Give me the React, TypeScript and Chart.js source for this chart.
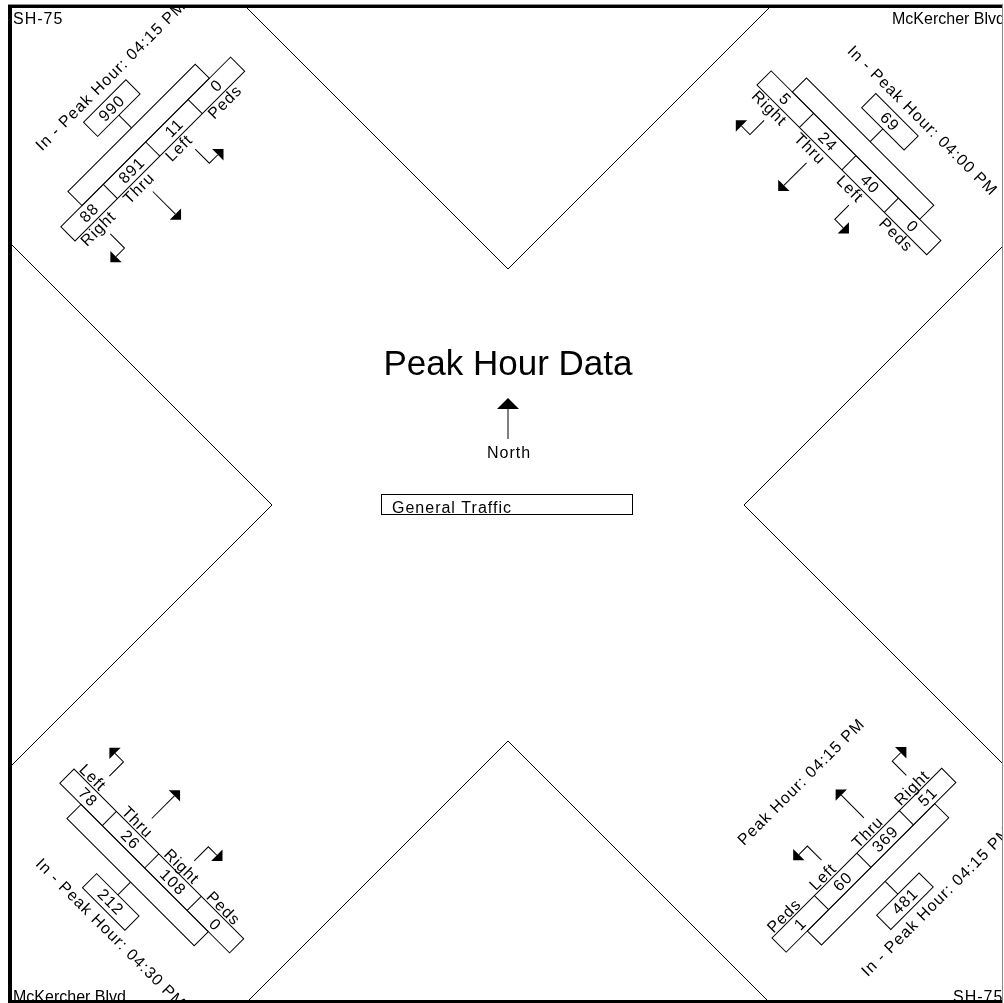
import React, { useEffect, useRef } from 'react';
import { Chart, registerables } from 'chart.js';

Chart.register(...registerables);

// ---------------- DATA ----------------
const chartTitle = 'Peak Hour Data';
const northLabel = 'North';
const legendLabel = 'General Traffic';

// corner road names: top-left, top-right, bottom-left, bottom-right
const cornerNames = ['SH-75', 'McKercher Blvd', 'McKercher Blvd', 'SH-75'];

// approach order: top-left, top-right, bottom-left, bottom-right
const inPeakHours = ['04:15 PM', '04:00 PM', '04:30 PM', '04:15 PM'];
const inTotals = [990, 69, 212, 481];
const outPeakHours: (string | null)[] = [null, null, null, '04:15 PM'];

const tlMovements = ['Right', 'Thru', 'Left', 'Peds'];
const tlCounts = [88, 891, 11, 0];

const trMovements = ['Right', 'Thru', 'Left', 'Peds'];
const trCounts = [5, 24, 40, 0];

const blMovements = ['Left', 'Thru', 'Right', 'Peds'];
const blCounts = [78, 26, 108, 0];

const brMovements = ['Peds', 'Left', 'Thru', 'Right'];
const brCounts = [1, 60, 369, 51];

// ---------------- LAYOUT ----------------
const W = 1004;
const H = 1003;
const FRAME = { left: 12, top: 8, right: 1002, bottom: 1000 };
const CENTER = { x: 508, y: 505 };
const ROAD_TIP = 236;
const ROAD_ARM = 320;

const CELL_W = 60;
const ROW_H = 20;
const BAR_INSET = 30;
const BAR_H = 20;
const CONN = 18;
const BOX_W = 60;
const BOX_H = 20;
const TITLE_OFF = 91;
const TITLE_X = 40;
const LABEL_X = 4;

const FONT = '16px "Liberation Sans", Arial, sans-serif';
const BIG_FONT = '35px "Liberation Sans", Arial, sans-serif';

// corner label anchors (left x, baseline y) and letter spacing
const cornerPos = [
  { x: 13, y: 24, sp: 1 },
  { x: 892, y: 24, sp: 0 },
  { x: 13, y: 1002, sp: 0 },
  { x: 953, y: 1002, sp: 1 },
];

// s = -1: text "down" points toward intersection; s = 1: text "down" points outward
const groupLayout = [
  { ox: 75, oy: 241, angle: -45, s: -1 },
  { ox: 757, oy: 85, angle: 45, s: -1 },
  { ox: 74, oy: 769, angle: 45, s: 1 },
  { ox: 772, oy: 938, angle: -45, s: 1 },
];

const groupMovements = [tlMovements, trMovements, blMovements, brMovements];
const groupCounts = [tlCounts, trCounts, blCounts, brCounts];

function arrowPath(ctx: CanvasRenderingContext2D, pts: number[][], head: number, hw: number) {
  const n = pts.length;
  const [tx, ty] = pts[n - 1];
  const [bx, by] = pts[n - 2];
  const dx = tx - bx;
  const dy = ty - by;
  const len = Math.hypot(dx, dy) || 1;
  const ux = dx / len;
  const uy = dy / len;
  const baseX = tx - ux * head;
  const baseY = ty - uy * head;
  ctx.beginPath();
  ctx.moveTo(pts[0][0], pts[0][1]);
  for (let i = 1; i < n - 1; i++) ctx.lineTo(pts[i][0], pts[i][1]);
  ctx.lineTo(baseX, baseY);
  ctx.stroke();
  ctx.beginPath();
  ctx.moveTo(tx, ty);
  ctx.lineTo(baseX - uy * hw, baseY + ux * hw);
  ctx.lineTo(baseX + uy * hw, baseY - ux * hw);
  ctx.closePath();
  ctx.fill();
}

function strokeBox(ctx: CanvasRenderingContext2D, x1: number, y1: number, x2: number, y2: number) {
  ctx.strokeRect(Math.min(x1, x2), Math.min(y1, y2), Math.abs(x2 - x1), Math.abs(y2 - y1));
}

const diagramPlugin = {
  id: 'diagram',
  beforeDraw(chart: any) {
    const ctx: CanvasRenderingContext2D = chart.ctx;
    ctx.save();
    ctx.fillStyle = '#ffffff';
    ctx.fillRect(0, 0, chart.width, chart.height);
    ctx.restore();
  },
  afterDatasetsDraw(chart: any) {
    const ctx: CanvasRenderingContext2D = chart.ctx;
    const sx = chart.scales.x;
    const sy = chart.scales.y;
    const px = (v: number) => sx.getPixelForValue(v);
    const py = (v: number) => sy.getPixelForValue(v);
    const k = (px(100) - px(0)) / 100;

    ctx.save();
    ctx.fillStyle = '#000';
    ctx.strokeStyle = '#000';
    ctx.lineWidth = 1;
    (ctx as any).letterSpacing = '1px';

    // clip to inner frame
    ctx.beginPath();
    ctx.rect(px(FRAME.left), py(FRAME.top), px(FRAME.right) - px(FRAME.left), py(FRAME.bottom) - py(FRAME.top));
    ctx.clip();

    // road edges (four V shapes)
    const vs = [
      { tx: CENTER.x, ty: CENTER.y - ROAD_TIP, a: [-1, -1], b: [1, -1] },
      { tx: CENTER.x + ROAD_TIP, ty: CENTER.y, a: [1, -1], b: [1, 1] },
      { tx: CENTER.x, ty: CENTER.y + ROAD_TIP, a: [-1, 1], b: [1, 1] },
      { tx: CENTER.x - ROAD_TIP, ty: CENTER.y, a: [-1, -1], b: [-1, 1] },
    ];
    vs.forEach((v) => {
      ctx.beginPath();
      ctx.moveTo(px(v.tx + v.a[0] * ROAD_ARM), py(v.ty + v.a[1] * ROAD_ARM));
      ctx.lineTo(px(v.tx), py(v.ty));
      ctx.lineTo(px(v.tx + v.b[0] * ROAD_ARM), py(v.ty + v.b[1] * ROAD_ARM));
      ctx.stroke();
    });

    // corner labels
    ctx.font = FONT;
    ctx.textBaseline = 'alphabetic';
    ctx.textAlign = 'left';
    cornerNames.forEach((name, i) => {
      const p = cornerPos[i];
      (ctx as any).letterSpacing = p.sp + 'px';
      ctx.fillText(name, px(p.x), py(p.y));
    });
    (ctx as any).letterSpacing = '1px';

    // title
    ctx.save();
    (ctx as any).letterSpacing = '0px';
    ctx.font = BIG_FONT;
    ctx.textAlign = 'center';
    ctx.fillText(chartTitle, px(508), py(375));
    ctx.restore();

    // north arrow
    arrowPath(ctx, [[px(508), py(439)], [px(508), py(398)]], 11 * k, 11 * k);
    ctx.font = FONT;
    ctx.textAlign = 'center';
    ctx.fillText(northLabel, px(509), py(458));

    // legend box
    strokeBox(ctx, px(381) + 0.5, py(494) + 0.5, px(632) + 0.5, py(514) + 0.5);
    ctx.textAlign = 'left';
    ctx.fillText(legendLabel, px(392), py(513));

    // approach groups
    groupLayout.forEach((g, gi) => {
      const movements = groupMovements[gi];
      const counts = groupCounts[gi];
      const s = g.s;
      const Yo = (yOut: number) => s * yOut;
      const Yi = (yIn: number) => -s * yIn;
      const n = counts.length;
      const rowLen = n * CELL_W;
      const mid = rowLen / 2;

      ctx.save();
      ctx.translate(px(g.ox), py(g.oy));
      ctx.rotate((g.angle * Math.PI) / 180);
      ctx.scale(k, k);

      // movement row
      strokeBox(ctx, 0, Yo(0), rowLen, Yo(ROW_H));
      for (let i = 1; i < n; i++) {
        ctx.beginPath();
        ctx.moveTo(i * CELL_W, Yo(0));
        ctx.lineTo(i * CELL_W, Yo(ROW_H));
        ctx.stroke();
      }
      // in bar
      strokeBox(ctx, BAR_INSET, Yo(ROW_H), rowLen - BAR_INSET, Yo(ROW_H + BAR_H));
      // connector
      ctx.beginPath();
      ctx.moveTo(mid, Yo(ROW_H + BAR_H));
      ctx.lineTo(mid, Yo(ROW_H + BAR_H + CONN));
      ctx.stroke();
      // in total box
      const boxIn = ROW_H + BAR_H + CONN;
      strokeBox(ctx, mid - BOX_W / 2, Yo(boxIn), mid + BOX_W / 2, Yo(boxIn + BOX_H));

      ctx.font = FONT;
      // counts
      ctx.textAlign = 'center';
      ctx.textBaseline = 'middle';
      counts.forEach((c, i) => {
        ctx.fillText(String(c), i * CELL_W + CELL_W / 2, Yo(ROW_H / 2) + 1);
      });
      ctx.fillText(String(inTotals[gi]), mid, Yo(boxIn + BOX_H / 2) + 1);

      // in title
      ctx.textAlign = 'left';
      ctx.fillText('In - Peak Hour: ' + inPeakHours[gi], TITLE_X, Yo(TITLE_OFF));
      const outPeak = outPeakHours[gi];
      if (outPeak) {
        ctx.fillText('Peak Hour: ' + outPeak, TITLE_X + 5, Yi(TITLE_OFF - 2));
      }

      // movement labels
      ctx.textBaseline = 'alphabetic';
      movements.forEach((m, i) => {
        const yl = s < 0 ? Yi(13) : Yi(2);
        ctx.fillText(m, i * CELL_W + LABEL_X, yl);
      });

      // arrows
      movements.forEach((m, i) => {
        const xc = i * CELL_W + CELL_W / 2;
        if (m === 'Thru') {
          arrowPath(ctx, [[xc, Yi(20)], [xc, Yi(60)]], 8, 8);
        } else if (m === 'Right' || m === 'Left') {
          const dir = m === 'Right' ? s : -s;
          arrowPath(ctx, [[xc, Yi(20)], [xc, Yi(40)], [xc + dir * 20, Yi(40)]], 8, 8);
        }
      });

      ctx.restore();
    });

    ctx.restore();

    // frame
    ctx.save();
    ctx.fillStyle = '#000';
    ctx.fillRect(px(8), py(4), px(12) - px(8), py(1003) - py(4));
    ctx.fillRect(px(8), py(4), px(1002) - px(8), py(8) - py(4));
    ctx.fillRect(px(8), py(1000), px(1003) - px(8), py(1003) - py(1000));
    ctx.fillStyle = '#8a8a8a';
    ctx.fillRect(px(1002), py(4), 1, py(1003) - py(4));
    ctx.fillRect(px(8), py(4), px(1002) - px(8), 1);
    ctx.restore();
  },
};

export default function App() {
  const ref = useRef<HTMLCanvasElement>(null);
  useEffect(() => {
    const canvas = ref.current;
    if (!canvas) return;
    const chart = new Chart(canvas, {
      type: 'scatter',
      data: { datasets: [{ data: [], pointRadius: 0 }] },
      options: {
        responsive: false,
        animation: false,
        devicePixelRatio: 1,
        events: [],
        layout: { padding: 0 },
        plugins: {
          legend: { display: false },
          tooltip: { enabled: false },
          title: { display: false },
        },
        scales: {
          x: { type: 'linear', min: 0, max: W, display: false },
          y: { type: 'linear', min: 0, max: H, reverse: true, display: false },
        },
      } as any,
      plugins: [diagramPlugin as any],
    });
    return () => chart.destroy();
  }, []);
  return (
    <div style={{ position: 'absolute', left: 0, top: 0, width: W, height: H, overflow: 'hidden', background: '#fff' }}>
      <canvas ref={ref} width={W} height={H} style={{ display: 'block', width: W, height: H }} />
    </div>
  );
}
